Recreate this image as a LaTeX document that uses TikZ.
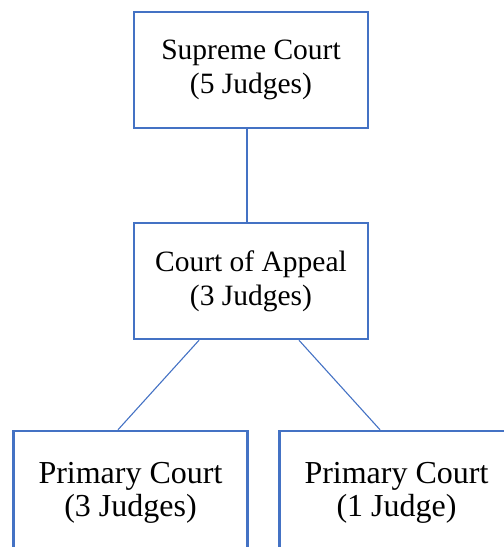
\documentclass[tikz,border=0pt]{standalone}
\usepackage{fontspec}
\setmainfont{Liberation Serif}
\definecolor{boxblue}{HTML}{4472C4}
\begin{document}
\begin{tikzpicture}[x=1pt,y=1pt,
  court/.style={draw=boxblue,line width=2.5pt,minimum width=234pt,minimum height=116pt,inner sep=0pt,align=center,font=\fontsize{29.5}{34}\selectfont},
  low/.style={minimum height=124pt,font=\fontsize{32}{33}\selectfont},
  link/.style={draw=boxblue,line width=1.1pt}]
\useasboundingbox (0,0) rectangle (504,547);
\node[court] (sc) at (251,477) {Supreme Court\\(5 Judges)};
\node[court] (ca) at (251,266) {Court of Appeal\\(3 Judges)};
\node[court,low] (pl) at (130.5,54) {Primary Court\\(3 Judges)};
\node[court,low] (pr) at (396.5,54) {Primary Court\\(1 Judge)};
\draw[link] ([xshift=-4pt]sc.south) -- ([xshift=-4pt]ca.north);
\draw[link] ([xshift=-52pt]ca.south) -- ([xshift=-12.5pt]pl.north);
\draw[link] ([xshift=48pt]ca.south) -- ([xshift=-16.5pt]pr.north);
\end{tikzpicture}
\end{document}
